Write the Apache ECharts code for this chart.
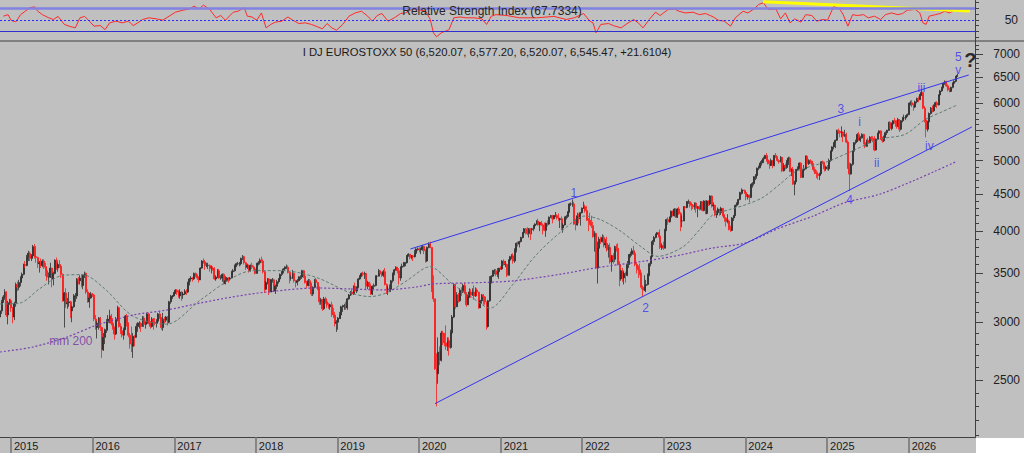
<!DOCTYPE html>
<html><head><meta charset="utf-8">
<script src="https://cdn.jsdelivr.net/npm/echarts@6/dist/echarts.min.js"></script>
<style>html,body{margin:0;padding:0;background:#c0c0c0;}#c{width:1024px;height:453px;}</style>
</head><body><div id="c"></div><script>
// Weekly candles [open, close, low, high], one array per calendar year (Fridays)
const y2014 = [[3050,3110,3020,3130],[3110,3200,3080,3220],[3200,3250,3190,3270],[3250,3300,3220,3330],[3300,3070,3050,3310],[3070,3190,2980,3210],[3190,3210,3170,3230]];
const y2015 = [[3210,3140,3100,3230],[3140,3050,2990,3150],[3050,3180,3020,3200],[3180,3380,3150,3400],[3380,3350,3310,3410],[3350,3400,3320,3430],[3400,3450,3360,3470],[3450,3490,3420,3510],[3490,3600,3480,3610],[3600,3590,3560,3640],[3590,3680,3580,3710],[3680,3730,3640,3760],[3730,3670,3640,3750],[3670,3700,3640,3720],[3700,3810,3690,3830],[3810,3690,3670,3840],[3690,3680,3620,3720],[3680,3610,3560,3690],[3610,3620,3510,3640],[3620,3590,3560,3670],[3590,3640,3570,3660],[3640,3570,3550,3660],[3570,3530,3470,3620],[3530,3460,3420,3580],[3460,3460,3380,3510],[3460,3560,3450,3620],[3560,3440,3350,3560],[3440,3500,3370,3520],[3500,3650,3490,3660],[3650,3560,3540,3680],[3560,3600,3520,3620],[3600,3580,3560,3650],[3580,3490,3450,3590],[3490,3210,3200,3500],[3210,3290,2950,3300],[3290,3180,3140,3340],[3180,3190,3130,3240],[3190,3200,3150,3300],[3200,3110,3040,3210],[3110,3150,3000,3160],[3150,3260,3140,3280],[3260,3260,3200,3290],[3260,3440,3230,3450],[3440,3420,3380,3460],[3420,3450,3380,3480],[3450,3370,3350,3490],[3370,3480,3330,3490],[3480,3500,3450,3520],[3500,3300,3280,3510],[3300,3200,3190,3330],[3200,3240,3140,3290],[3240,3280,3230,3300]];
const y2016 = [[3280,3270,3250,3290],[3270,3030,3010,3280],[3030,2950,2930,3070],[2950,2990,2850,3010],[2990,3040,2930,3050],[3040,2950,2920,3050],[2950,2750,2680,2960],[2750,2860,2740,2900],[2860,2930,2800,2940],[2930,3000,2900,3030],[3000,3030,2920,3070],[3030,3060,2990,3120],[3060,2990,2970,3080],[2990,2950,2930,3040],[2950,2890,2840,2960],[2890,3030,2880,3050],[3030,3140,3010,3160],[3140,2960,2950,3150],[2960,2920,2890,2990],[2920,2880,2860,2960],[2880,2930,2840,2950],[2930,3060,2930,3070],[3060,2990,2960,3080],[2990,2880,2860,3000],[2880,2800,2760,2900],[2800,2780,2730,2960],[2780,2870,2680,2900],[2870,2860,2780,2880],[2860,2960,2860,2990],[2960,2990,2910,3000],[2990,2990,2940,3010],[2990,2960,2910,3000],[2960,3040,2960,3060],[3040,2980,2960,3060],[2980,2990,2940,3010],[2990,3080,2980,3090],[3080,2990,2980,3090],[2990,2960,2940,3010],[2960,3030,2950,3050],[3030,3000,2930,3040],[3000,2990,2970,3040],[2990,3010,2950,3030],[3010,3080,2990,3090],[3080,3040,3030,3100],[3040,2950,2930,3050],[2950,3030,2920,3090],[3030,3020,2990,3050],[3020,3050,3000,3060],[3050,3000,2970,3060],[3000,3200,2990,3210],[3200,3250,3180,3270],[3250,3260,3230,3270],[3260,3290,3250,3300]];
const y2017 = [[3290,3320,3280,3330],[3320,3300,3270,3330],[3300,3260,3240,3320],[3260,3300,3230,3330],[3300,3270,3210,3310],[3270,3280,3230,3300],[3280,3310,3270,3330],[3310,3300,3270,3330],[3300,3400,3290,3410],[3400,3440,3370,3450],[3440,3450,3410,3470],[3450,3440,3410,3460],[3440,3500,3430,3510],[3500,3480,3460,3510],[3480,3450,3430,3490],[3450,3430,3400,3470],[3430,3560,3430,3570],[3560,3640,3550,3650],[3640,3630,3610,3670],[3630,3590,3540,3650],[3590,3590,3570,3620],[3590,3590,3550,3620],[3590,3560,3520,3600],[3560,3560,3500,3590],[3560,3550,3530,3580],[3550,3440,3430,3570],[3440,3460,3420,3480],[3460,3530,3450,3550],[3530,3450,3440,3550],[3450,3450,3430,3480],[3450,3490,3410,3500],[3490,3390,3380,3500],[3390,3420,3380,3470],[3420,3450,3420,3460],[3450,3440,3400,3460],[3440,3450,3420,3460],[3450,3520,3450,3530],[3520,3530,3500,3550],[3530,3590,3520,3600],[3590,3610,3570,3620],[3610,3610,3590,3630],[3610,3610,3580,3630],[3610,3670,3590,3680],[3670,3690,3650,3710],[3690,3620,3600,3700],[3620,3570,3540,3630],[3570,3590,3550,3610],[3590,3530,3510,3600],[3530,3590,3520,3600],[3590,3570,3550,3620],[3570,3550,3540,3590],[3550,3500,3490,3570]];
const y2018 = [[3500,3610,3500,3620],[3610,3620,3590,3640],[3620,3650,3600,3670],[3650,3640,3620,3690],[3640,3520,3500,3660],[3520,3330,3290,3530],[3330,3400,3320,3420],[3400,3440,3380,3450],[3440,3300,3270,3450],[3300,3430,3300,3440],[3430,3430,3400,3450],[3430,3310,3300,3440],[3310,3360,3280,3380],[3360,3410,3330,3430],[3410,3440,3390,3450],[3440,3490,3430,3500],[3490,3520,3470,3530],[3520,3550,3500,3560],[3550,3570,3530,3580],[3570,3570,3550,3600],[3570,3510,3500,3590],[3510,3450,3390,3520],[3450,3450,3420,3480],[3450,3500,3440,3540],[3500,3420,3400,3510],[3420,3400,3350,3430],[3400,3420,3370,3440],[3420,3460,3410,3470],[3460,3460,3430,3480],[3460,3530,3440,3540],[3530,3470,3450,3540],[3470,3400,3390,3490],[3400,3370,3340,3420],[3370,3420,3360,3440],[3420,3390,3360,3440],[3390,3280,3260,3400],[3280,3350,3260,3360],[3350,3430,3340,3440],[3430,3400,3380,3450],[3400,3340,3320,3410],[3340,3200,3170,3360],[3200,3220,3170,3240],[3220,3130,3110,3230],[3130,3230,3120,3250],[3230,3200,3180,3250],[3200,3170,3140,3220],[3170,3150,3130,3190],[3150,3170,3120,3180],[3170,3080,3050,3200],[3080,3070,3040,3140],[3070,2990,2960,3100],[2990,3000,2910,3020]];
const y2019 = [[3000,3040,2930,3050],[3040,3070,3030,3100],[3070,3150,3030,3160],[3150,3160,3100,3170],[3160,3160,3120,3180],[3160,3140,3120,3200],[3140,3230,3120,3240],[3230,3270,3220,3280],[3270,3300,3260,3310],[3300,3280,3270,3340],[3280,3360,3270,3370],[3360,3310,3300,3400],[3310,3350,3290,3360],[3350,3440,3340,3450],[3440,3470,3430,3480],[3470,3500,3460,3510],[3500,3490,3470,3520],[3490,3500,3440,3520],[3500,3360,3330,3490],[3360,3400,3330,3420],[3400,3360,3330,3410],[3360,3280,3270,3390],[3280,3360,3270,3370],[3360,3370,3330,3390],[3370,3470,3360,3480],[3470,3470,3440,3480],[3470,3530,3470,3550],[3530,3500,3490,3530],[3500,3480,3460,3520],[3480,3520,3460,3540],[3520,3380,3370,3560],[3380,3330,3280,3390],[3330,3330,3270,3360],[3330,3330,3300,3380],[3330,3420,3300,3430],[3420,3500,3400,3510],[3500,3540,3480,3550],[3540,3570,3530,3580],[3570,3530,3500,3570],[3530,3450,3380,3560],[3450,3570,3420,3580],[3570,3580,3550,3610],[3580,3620,3570,3630],[3620,3620,3580,3630],[3620,3700,3610,3710],[3700,3720,3690,3730],[3720,3680,3660,3720],[3680,3700,3660,3710],[3700,3690,3640,3710],[3690,3730,3680,3770],[3730,3780,3720,3790],[3780,3780,3760,3800]];
const y2020 = [[3780,3770,3740,3800],[3770,3780,3720,3800],[3780,3810,3760,3830],[3810,3760,3720,3820],[3760,3640,3620,3780],[3640,3800,3630,3810],[3800,3840,3790,3860],[3840,3800,3790,3870],[3800,3330,3300,3800],[3330,3230,3200,3480],[3230,2590,2580,3230],[2590,2550,2300,2720],[2550,2730,2470,2860],[2730,2660,2620,2780],[2660,2900,2650,2920],[2900,2890,2790,2920],[2890,2810,2780,2900],[2810,2780,2750,2970],[2780,2830,2740,2860],[2830,2770,2700,2860],[2770,2900,2760,2930],[2900,3050,2880,3070],[3050,3380,3040,3390],[3380,3150,3130,3390],[3150,3270,3150,3300],[3270,3210,3190,3290],[3210,3320,3200,3340],[3320,3300,3260,3350],[3300,3370,3290,3390],[3370,3290,3280,3400],[3290,3170,3150,3300],[3170,3250,3170,3270],[3250,3300,3240,3340],[3300,3270,3240,3330],[3270,3300,3260,3340],[3300,3260,3220,3370],[3260,3320,3250,3350],[3320,3300,3260,3340],[3300,3140,3130,3300],[3140,3210,3150,3220],[3210,3270,3180,3280],[3270,3250,3170,3280],[3250,3200,3170,3260],[3200,2960,2930,3200],[2960,3210,2950,3220],[3210,3410,3200,3470],[3410,3470,3390,3480],[3470,3530,3460,3540],[3530,3530,3490,3550],[3530,3490,3470,3550],[3490,3520,3460,3560],[3520,3560,3440,3560]];
const y2021 = [[3560,3550,3540,3580],[3550,3640,3540,3650],[3640,3600,3590,3660],[3600,3600,3570,3640],[3600,3480,3460,3610],[3480,3650,3480,3660],[3650,3690,3630,3700],[3690,3700,3660,3720],[3700,3640,3610,3730],[3640,3770,3620,3790],[3770,3850,3740,3860],[3850,3840,3810,3870],[3840,3870,3800,3880],[3870,3920,3860,3930],[3920,3980,3910,3990],[3980,4030,3970,4040],[4030,4020,3960,4040],[4020,3970,3950,4050],[3970,4030,3920,4040],[4030,4020,3890,4040],[4020,4030,3960,4040],[4030,4070,4000,4080],[4070,4090,4060,4100],[4090,4130,4080,4140],[4130,4080,4070,4160],[4080,4110,4000,4120],[4110,4080,4070,4130],[4080,4060,3960,4100],[4060,4010,4000,4110],[4010,4100,3930,4110],[4100,4090,4060,4140],[4090,4180,4080,4190],[4180,4200,4170,4210],[4200,4160,4100,4210],[4160,4200,4150,4210],[4200,4200,4180,4250],[4200,4170,4150,4220],[4170,4150,4130,4230],[4150,4160,4040,4170],[4160,4040,4010,4190],[4040,4080,3980,4100],[4080,4180,4070,4190],[4180,4190,4150,4210],[4190,4250,4170,4260],[4250,4360,4240,4370],[4360,4360,4330,4380],[4360,4360,4320,4420],[4360,4090,4080,4390],[4090,4080,4010,4160],[4080,4200,4070,4240],[4200,4160,4100,4230],[4160,4240,4070,4250],[4240,4300,4230,4310]];
const y2022 = [[4300,4320,4290,4390],[4320,4270,4240,4350],[4270,4150,4130,4330],[4150,4140,4000,4170],[4140,4100,4080,4240],[4100,4070,4040,4200],[4070,3930,3920,4120],[3930,3970,3750,4000],[3970,3560,3550,3980],[3560,3790,3390,3870],[3790,3900,3750,3930],[3900,3870,3840,3930],[3870,3920,3860,3960],[3920,3830,3800,3950],[3830,3850,3790,3900],[3850,3770,3750,3930],[3770,3800,3680,3830],[3800,3630,3610,3850],[3630,3700,3520,3710],[3700,3660,3610,3730],[3660,3810,3630,3820],[3810,3790,3750,3840],[3790,3600,3590,3850],[3600,3440,3360,3640],[3440,3530,3420,3540],[3530,3450,3410,3560],[3450,3500,3380,3520],[3500,3480,3400,3520],[3480,3600,3470,3640],[3600,3710,3560,3720],[3710,3720,3680,3750],[3720,3760,3700,3790],[3760,3730,3710,3820],[3730,3600,3580,3740],[3600,3570,3500,3630],[3570,3540,3450,3590],[3540,3500,3480,3610],[3500,3350,3330,3510],[3350,3320,3250,3370],[3320,3370,3310,3480],[3370,3380,3300,3430],[3380,3480,3370,3500],[3480,3610,3470,3620],[3610,3690,3580,3700],[3690,3870,3690,3890],[3870,3920,3830,3940],[3920,3960,3910,3970],[3960,3980,3940,3990],[3980,3940,3920,3990],[3940,3800,3780,4020],[3800,3820,3770,3850],[3820,3790,3770,3870]];
const y2023 = [[3790,4020,3790,4030],[4020,4150,4000,4160],[4150,4120,4080,4180],[4120,4180,4110,4190],[4180,4260,4140,4270],[4260,4200,4190,4270],[4200,4290,4190,4300],[4290,4180,4170,4300],[4180,4290,4170,4300],[4290,4230,4210,4320],[4230,4130,4000,4250],[4130,4130,4050,4200],[4130,4320,4130,4330],[4320,4310,4270,4330],[4310,4390,4300,4400],[4390,4390,4360,4420],[4390,4360,4310,4400],[4360,4340,4270,4380],[4340,4320,4290,4360],[4320,4370,4280,4380],[4370,4300,4240,4380],[4300,4320,4180,4330],[4320,4290,4270,4340],[4290,4390,4280,4400],[4390,4270,4260,4390],[4270,4400,4260,4410],[4400,4230,4220,4410],[4230,4400,4220,4410],[4400,4360,4330,4410],[4360,4470,4340,4480],[4470,4330,4310,4480],[4330,4340,4270,4380],[4340,4210,4190,4350],[4210,4240,4170,4270],[4240,4290,4230,4310],[4290,4240,4200,4290],[4240,4300,4210,4320],[4300,4210,4190,4300],[4210,4170,4120,4220],[4170,4130,4060,4180],[4130,4130,4100,4220],[4130,4020,4010,4150],[4020,4010,3990,4070],[4010,4170,4000,4180],[4170,4200,4130,4210],[4200,4340,4200,4350],[4340,4370,4320,4380],[4370,4420,4350,4430],[4420,4520,4410,4530],[4520,4550,4490,4580],[4550,4550,4500,4560],[4550,4520,4500,4560]];
const y2024 = [[4520,4460,4410,4530],[4460,4480,4420,4500],[4480,4450,4380,4490],[4450,4630,4440,4640],[4630,4650,4590,4670],[4650,4750,4620,4760],[4750,4770,4700,4790],[4770,4880,4720,4890],[4880,4900,4850,4920],[4900,4960,4880,4990],[4960,4990,4920,5010],[4990,5030,4960,5060],[5030,5080,5020,5090],[5080,5010,4980,5120],[5010,4950,4940,5050],[4950,4920,4870,5000],[4920,5000,4920,5030],[5000,4920,4880,5010],[4920,5080,4910,5090],[5080,5060,5040,5120],[5060,5000,4980,5070],[5000,4980,4950,5020],[4980,5050,4970,5070],[5050,4840,4820,5050],[4840,4920,4830,4960],[4920,4890,4860,4950],[4890,4980,4870,5010],[4980,5040,4930,5060],[5040,4830,4820,5060],[4830,4860,4760,4880],[4860,4640,4630,4900],[4640,4680,4480,4690],[4680,4860,4670,4870],[4860,4880,4840,4910],[4880,4960,4860,4970],[4960,4740,4730,4970],[4740,4850,4740,4860],[4850,4870,4830,4930],[4870,5070,4860,5080],[5070,4950,4900,5080],[4950,5000,4930,5020],[5000,4990,4950,5020],[4990,4940,4920,5000],[4940,4860,4830,4960],[4860,4800,4790,4900],[4800,4790,4730,4850],[4790,4770,4710,4820],[4770,4800,4700,4810],[4800,4980,4790,4990],[4980,4970,4940,5000],[4970,4870,4830,4980],[4870,4900,4840,4920]];
const y2025 = [[4900,4870,4850,4930],[4870,5000,4840,5030],[5000,5150,4980,5160],[5150,5220,5140,5230],[5220,5290,5180,5300],[5290,5330,5200,5340],[5330,5500,5320,5510],[5500,5480,5440,5530],[5480,5460,5380,5500],[5460,5470,5380,5570],[5470,5400,5300,5480],[5400,5430,5390,5510],[5430,5300,5280,5460],[5300,4880,4870,5330],[4880,4790,4540,4970],[4790,4940,4780,4960],[4940,5150,4920,5160],[5150,5290,5130,5300],[5290,5310,5260,5340],[5310,5430,5300,5450],[5430,5330,5320,5470],[5330,5370,5300,5400],[5370,5430,5360,5450],[5430,5290,5260,5440],[5290,5230,5200,5300],[5230,5330,5220,5340],[5330,5290,5250,5370],[5290,5380,5280,5400],[5380,5360,5320,5400],[5360,5350,5310,5400],[5350,5170,5150,5400],[5170,5350,5160,5360],[5350,5450,5340,5460],[5450,5490,5420,5500],[5490,5350,5340,5500],[5350,5320,5290,5390],[5320,5390,5300,5410],[5390,5460,5370,5480],[5460,5500,5420,5510],[5500,5640,5490,5650],[5640,5530,5520,5660],[5530,5610,5500,5640],[5610,5670,5600,5680],[5670,5660,5620,5720],[5660,5570,5530,5680],[5570,5690,5560,5720],[5690,5520,5470,5700],[5520,5670,5500,5680],[5670,5720,5640,5740],[5720,5720,5690,5780],[5720,5750,5680,5770],[5750,5780,5740,5800]];
const y2026 = [[5780,5990,5770,6000],[5990,6000,5950,6040],[6000,5960,5920,6050],[5960,5920,5850,5990],[5920,6020,5900,6040],[6020,6080,5990,6100],[6080,6060,6010,6120],[6060,6150,6050,6170],[6150,6200,6130,6250],[6200,5900,5880,6210],[5900,5680,5640,5940],[5680,5520,5380,5720],[5520,5650,5480,5670],[5650,5800,5630,5820],[5800,5900,5780,5920],[5900,5850,5820,5950],[5850,5950,5830,5970],[5950,6000,5920,6020],[6000,5960,5900,6030],[5960,6150,5950,6160],[6150,6230,6130,6250],[6230,6300,6210,6310],[6300,6380,6280,6400],[6380,6410,6350,6440],[6410,6330,6310,6430],[6330,6250,6220,6360],[6250,6220,6200,6290],[6220,6300,6210,6310],[6300,6380,6280,6400],[6380,6420,6360,6440],[6420,6524,6400,6530],[6520.07,6545.47,6520.07,6577.2]];

// Moving averages [date, value]
const maShort = [['2014-11-13',3178],['2015-02-10',3188],['2015-05-10',3336],['2015-08-16',3476],['2015-11-18',3487],['2016-02-24',3336],['2016-06-30',3059],['2016-11-28',2982],['2017-04-26',3215],['2017-09-20',3454],['2017-12-18',3531],['2018-05-01',3531],['2018-10-01',3454],['2019-02-26',3294],['2019-05-27',3253],['2019-08-11',3294],['2019-11-08',3421],['2020-02-19',3575],['2020-05-28',3390],['2020-08-25',3246],['2020-11-14',3136],['2021-02-21',3370],['2021-06-03',3694],['2021-10-02',4002],['2022-01-13',4196],['2022-03-22',4150],['2022-06-19',4006],['2022-09-16',3819],['2022-12-05',3694],['2023-03-27',3805],['2023-06-11',4020],['2023-08-08',4210],['2023-10-23',4282],['2024-01-08',4354],['2024-03-20',4451],['2024-06-04',4640],['2024-08-10',4822],['2024-10-25',4913],['2025-01-09',4991],['2025-04-22',5150],['2025-08-20',5345],['2025-12-15',5429],['2026-03-14',5685],['2026-05-30',5831],['2026-08-05',5955]];
const ma200 = [['2014-11-13',2731],['2015-04-08',2774],['2015-09-08',2862],['2016-01-20',2973],['2016-06-30',3069],['2016-11-28',3118],['2017-04-26',3187],['2017-09-20',3250],['2018-02-20',3301],['2018-10-01',3343],['2019-02-26',3333],['2019-07-24',3322],['2019-12-23',3354],['2020-03-03',3386],['2020-08-03',3396],['2021-02-21',3418],['2021-10-02',3494],['2022-02-27',3561],['2022-10-09',3640],['2023-03-15',3709],['2023-08-04',3792],['2023-12-30',3853],['2024-06-02',4040],['2024-10-26',4190],['2025-03-22',4377],['2025-08-21',4492],['2026-01-15',4680],['2026-04-27',4830],['2026-07-28',4975]];

// RSI [week index, value]
const rsiPoints = [[2,56.4],[5,59],[7,49],[10,46.5],[13,59],[16,65],[19,71],[22,72.6],[24,65],[27,59],[31,53.5],[34,50.6],[37,56],[41,42],[44,39],[48,36],[51,53.5],[54,56],[57,47.7],[60,39],[64,40],[67,33],[70,44.8],[74,47.7],[78,44.8],[82,47.7],[85,40],[88,44.8],[91,50.6],[95,53.5],[100,51.7],[104,49.4],[108,56.4],[112,63.3],[117,66.8],[121,69],[124,73.8],[127,69],[130,75.5],[134,68],[138,53.5],[141,57.5],[144,49.4],[149,63.3],[152,65],[156,71],[158,56.4],[161,55],[164,49.4],[167,62],[170,36],[173,42],[176,46],[180,47.7],[184,55],[187,49.4],[191,43.6],[195,44.8],[199,42],[203,37.8],[206,34.3],[209,43.6],[212,36],[215,32],[219,42],[223,56.4],[227,62],[231,65],[235,56.4],[238,47.7],[241,57.5],[244,61],[248,47.7],[252,53.5],[256,61],[259,62],[263,68],[267,68],[272,65],[275,50.6],[277,27.4],[279,20.4],[282,27.4],[287,33],[290,53.5],[294,55],[298,53.5],[303,53.5],[308,51.7],[311,42],[314,56.4],[317,59],[324,57.5],[332,53.5],[343,53.5],[354,56],[362,50.6],[367,53.5],[373,61],[377,47.7],[379,44.8],[381,27.4],[384,42],[389,43.6],[392,40],[397,36],[400,42],[405,50.6],[408,44.8],[411,36],[415,50.6],[419,63.3],[422,57.5],[427,68],[431,69],[434,65],[438,62],[443,63.3],[447,59],[451,61],[456,55],[459,49.4],[463,47.7],[467,39],[470,53.5],[475,65],[478,62],[482,69],[485,76.7],[488,79.6],[491,68],[496,69],[499,51.7],[502,62],[505,44.8],[508,51.7],[512,46],[515,59],[519,57.5],[522,47.7],[526,50.6],[529,49.4],[533,73.8],[537,68],[539,59],[542,39],[545,59],[548,57.5],[552,59],[555,53.5],[559,56.4],[563,50.6],[566,59],[570,62],[574,59],[577,61],[580,66.8],[585,68],[588,62],[590,44.8],[592,42],[594,56.4],[598,59],[601,61],[604,65],[607,62],[610,66.8],[612,67.7]];
const rsiLevels = [70, 50, 30];
const rsiTrend = [['2024-03-20',81.5],['2026-10-02',65.4]];

// Trend lines and annotations [date, value]
const upperLine = [['2019-11-24',3781],['2026-09-27',6551]];
const lowerLine = [['2020-03-13',2320],['2026-10-11',5559]];
const waveLabels = [['1','2021-11-24',4513],['2','2022-10-12',3136],['3','2025-03-04',5884],['4','2025-04-12',4419],['i','2025-05-26',5639],['ii','2025-08-11',4965],['iii','2026-02-27',6292],['iv','2026-04-04',5237],['v','2026-08-11',6655],['5','2026-08-12',6934]];
const questionMark = [['?','2026-10-04',6868]];
const maLabel = [['mm 200','2015-09-26',2827]];

const tickYears = [2015,2016,2017,2018,2019,2020,2021,2022,2023,2024,2025,2026];
const priceTicks = [2500,3000,3500,4000,4500,5000,5500,6000,6500,7000];
const rsiTicks = [20,30,40,50,60,70,80];
const rsiLabelTicks = [50];
const titleText = 'I DJ EUROSTOXX 50 (6,520.07, 6,577.20, 6,520.07, 6,545.47, +21.6104)';
const rsiTitle = 'Relative Strength Index (67.7334)';

// ---------- build ----------
function ts(s){ const p = s.split('-'); return Date.UTC(+p[0], +p[1]-1, +p[2]); }
const WEEK = 7*86400000;
const firstWeek = ts('2014-11-14');
const ohlc = [].concat(y2014,y2015,y2016,y2017,y2018,y2019,y2020,y2021,y2022,y2023,y2024,y2025,y2026);
const weekDates = ohlc.map((_, i) => firstWeek + i*WEEK);
const candleData = ohlc.map((d, i) => [weekDates[i], d[0], d[1], d[2], d[3]]);
const toPts = arr => arr.map(p => [ts(p[0]), p[1]]);
const rsiData = rsiPoints.filter(p => p[0] < weekDates.length).map(p => [weekDates[p[0]], p[1]]);
const minorTicks = []; for (let v = 2100; v <= 7200; v += 100) minorTicks.push(v);
const xMin = ts('2014-11-13'), xMax = ts('2026-10-25');
const yearTs = tickYears.map(y => Date.UTC(y, 0, 1));
const FONT = 'Liberation Sans, Arial, sans-serif';
const BLUE = '#3434ec';

const chart = echarts.init(document.getElementById('c'), null, {renderer: 'svg', width: 1024, height: 453});
const option = {
  animation: false,
  backgroundColor: '#c0c0c0',
  grid: [
    {left: 0, right: 49, top: 0, height: 41, containLabel: false},
    {left: 0, right: 49, top: 41, bottom: 15.5, containLabel: false}
  ],
  xAxis: [
    {type: 'value', gridIndex: 0, min: xMin, max: xMax, show: false, splitLine: {show: false}},
    {type: 'value', gridIndex: 1, min: xMin, max: xMax,
      axisLine: {show: true, lineStyle: {color: '#404040', width: 1}},
      axisTick: {show: true, customValues: yearTs, length: 16, lineStyle: {color: '#858585', width: 2}},
      axisLabel: {show: true, customValues: yearTs, formatter: v => String(new Date(v).getUTCFullYear()),
        align: 'left', padding: [0, 0, 0, 3], margin: 3, color: '#202020', fontSize: 11, fontFamily: FONT},
      splitLine: {show: false}}
  ],
  yAxis: [
    {type: 'value', gridIndex: 0, position: 'right', min: 13.2, max: 84.5,
      axisLine: {show: true, lineStyle: {color: '#404040'}},
      axisTick: {show: true, customValues: rsiTicks, length: 4, lineStyle: {color: '#404040'}},
      axisLabel: {show: true, customValues: rsiLabelTicks, align: 'right', margin: 43, color: '#202020', fontSize: 12, fontFamily: FONT},
      splitLine: {show: false}},
    {type: 'log', gridIndex: 1, position: 'right', min: 2084.6, max: 7293,
      axisLine: {show: true, lineStyle: {color: '#404040'}},
      axisTick: {show: true, customValues: priceTicks, length: 8, lineStyle: {color: '#404040'}},
      axisLabel: {show: true, customValues: priceTicks, formatter: v => String(Math.round(v)), align: 'right', margin: 45, color: '#202020', fontSize: 12, fontFamily: FONT},
      splitLine: {show: false}},
    {type: 'log', gridIndex: 1, position: 'right', min: 2084.6, max: 7293,
      axisLine: {show: false},
      axisTick: {show: true, customValues: minorTicks, length: 4, lineStyle: {color: '#404040'}},
      axisLabel: {show: false}, splitLine: {show: false}}
  ],
  graphic: [
    {type: 'rect', shape: {x: 976, y: 438, width: 48, height: 15}, style: {fill: '#ffffff'}, z: 100},
    {type: 'line', shape: {x1: 0, y1: 41, x2: 1024, y2: 41}, style: {stroke: '#404040', lineWidth: 1.2}, z: 100},
    {type: 'text', x: 492, y: 11, style: {text: rsiTitle, font: '12px ' + FONT, fill: '#262626', align: 'center', verticalAlign: 'middle'}, z: 100},
    {type: 'text', x: 487, y: 52, style: {text: titleText, font: '11.3px ' + FONT, fill: '#1a1a1a', align: 'center', verticalAlign: 'middle'}, z: 100}
  ],
  series: [
    {type: 'line', name: 'RSI', xAxisIndex: 0, yAxisIndex: 0, data: rsiData, symbol: 'none', silent: true,
      lineStyle: {color: '#ff2a2a', width: 1},
      markLine: {silent: true, symbol: 'none', label: {show: false}, animation: false,
        data: [
          {yAxis: rsiLevels[0], lineStyle: {color: '#8282e2', width: 2.5, type: 'solid'}},
          {yAxis: rsiLevels[1], lineStyle: {color: '#2a2aff', width: 1.2, type: [2, 2]}},
          {yAxis: rsiLevels[2], lineStyle: {color: '#3030d0', width: 1.2, type: 'solid'}}
        ]}},
    {type: 'line', xAxisIndex: 0, yAxisIndex: 0, data: toPts(rsiTrend), symbol: 'none', silent: true,
      lineStyle: {color: '#ffff00', width: 3}, z: 3},
    {type: 'candlestick', xAxisIndex: 1, yAxisIndex: 1, data: candleData, large: false, barWidth: 1.5, silent: true,
      itemStyle: {color: '#000000', color0: '#ff0000', borderColor: '#2e2e2e', borderColor0: '#ff1a1a', borderWidth: 0.8}},
    {type: 'line', xAxisIndex: 1, yAxisIndex: 1, data: toPts(maShort), symbol: 'none', smooth: 0.3, silent: true,
      lineStyle: {color: '#5e7c74', width: 1, type: [3, 2]}},
    {type: 'line', xAxisIndex: 1, yAxisIndex: 1, data: toPts(ma200), symbol: 'none', smooth: 0.3, silent: true,
      lineStyle: {color: '#7a3fb0', width: 1.2, type: [2, 2]}},
    {type: 'line', xAxisIndex: 1, yAxisIndex: 1, data: toPts(upperLine), symbol: 'none', silent: true,
      lineStyle: {color: BLUE, width: 1}},
    {type: 'line', xAxisIndex: 1, yAxisIndex: 1, data: toPts(lowerLine), symbol: 'none', silent: true,
      lineStyle: {color: BLUE, width: 1}},
    {type: 'scatter', xAxisIndex: 1, yAxisIndex: 1, symbolSize: 1, silent: true, itemStyle: {color: 'rgba(0,0,0,0)'},
      data: waveLabels.map(w => ({name: w[0], value: [ts(w[1]), w[2]]})),
      label: {show: true, position: 'inside', formatter: '{b}', color: BLUE, fontSize: 12, fontFamily: FONT}, z: 5},
    {type: 'scatter', xAxisIndex: 1, yAxisIndex: 1, symbolSize: 1, silent: true, itemStyle: {color: 'rgba(0,0,0,0)'},
      data: questionMark.map(w => ({name: w[0], value: [ts(w[1]), w[2]]})),
      label: {show: true, position: 'inside', formatter: '{b}', color: '#000000', fontSize: 20, fontWeight: 'bold', fontFamily: FONT}, z: 5},
    {type: 'scatter', xAxisIndex: 1, yAxisIndex: 1, symbolSize: 1, silent: true, itemStyle: {color: 'rgba(0,0,0,0)'},
      data: maLabel.map(w => ({name: w[0], value: [ts(w[1]), w[2]]})),
      label: {show: true, position: 'inside', formatter: '{b}', color: '#7030a0', fontSize: 12, fontFamily: FONT}, z: 5}
  ]
};
chart.setOption(option);
</script></body></html>
